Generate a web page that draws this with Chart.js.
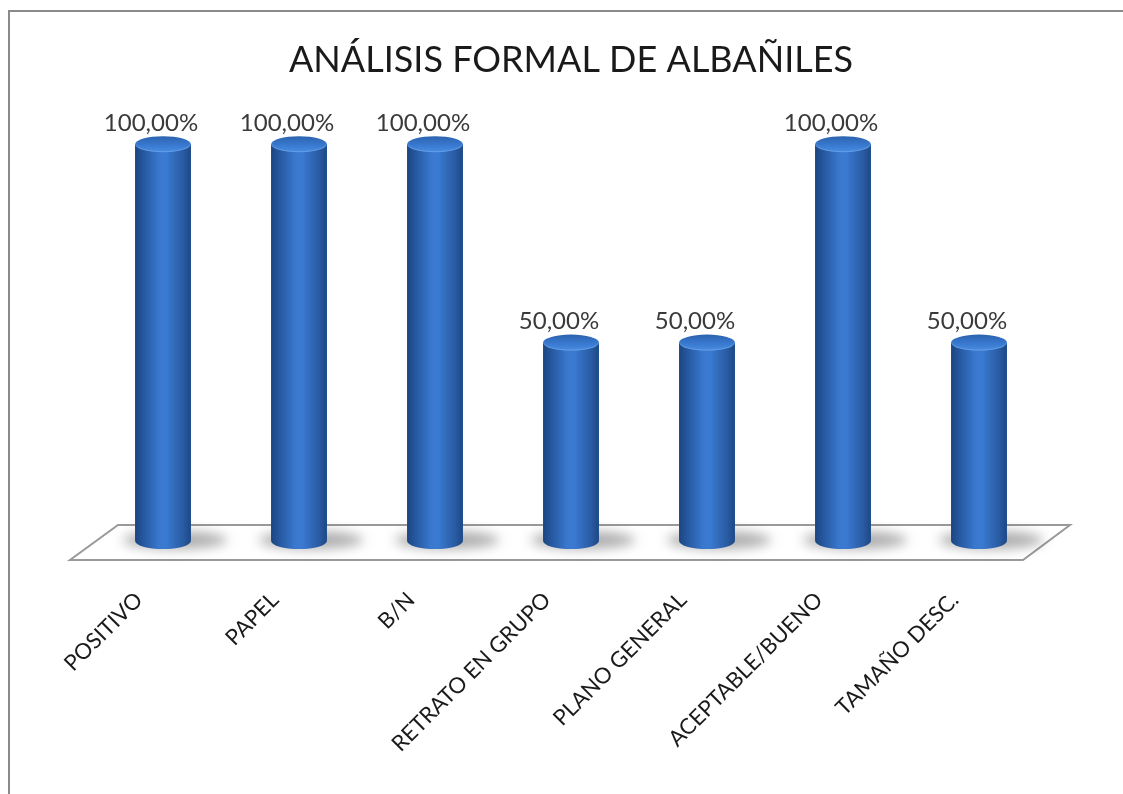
<!DOCTYPE html>
<html>
<head>
<meta charset="utf-8">
<script src="https://cdn.jsdelivr.net/npm/chart.js@4/dist/chart.umd.min.js"></script>
<style>
html,body{margin:0;padding:0;background:#fff;}
#wrap{width:1123px;height:794px;position:relative;}
</style>
</head>
<body>
<div id="wrap"><canvas id="c" width="1123" height="794"></canvas></div>
<script>
const categories = ['POSITIVO','PAPEL','B/N','RETRATO EN GRUPO','PLANO GENERAL','ACEPTABLE/BUENO','TAMAÑO DESC.'];
const percentValues = [100, 100, 100, 50, 50, 100, 50];
const chartTitle = 'ANÁLISIS FORMAL DE ALBAÑILES';

const RY = 8;

function bodyGradient(ctx, x, w) {
  const g = ctx.createLinearGradient(x - w/2, 0, x + w/2, 0);
  g.addColorStop(0, '#1b4580');
  g.addColorStop(0.12, '#24549a');
  g.addColorStop(0.42, '#3877cc');
  g.addColorStop(0.55, '#3a7bd2');
  g.addColorStop(0.85, '#2a5ca4');
  g.addColorStop(1, '#1d4884');
  return g;
}

const cylinderPlugin = {
  id: 'cylinder',
  beforeDraw(chart) {
    const ctx = chart.ctx;
    ctx.save();
    ctx.strokeStyle = '#8a8a8a';
    ctx.lineWidth = 2;
    ctx.beginPath();
    ctx.moveTo(9, 794);
    ctx.lineTo(9, 11);
    ctx.lineTo(1123, 11);
    ctx.stroke();
    ctx.restore();
  },
  beforeDatasetsDraw(chart) {
    const ctx = chart.ctx;
    const a = chart.chartArea;
    const yb = chart.scales.y.getPixelForValue(0);
    ctx.save();
    ctx.beginPath();
    ctx.moveTo(a.left + 23, yb - 16);
    ctx.lineTo(a.right + 23, yb - 16);
    ctx.lineTo(a.right - 24, yb + 19);
    ctx.lineTo(a.left - 25, yb + 19);
    ctx.closePath();
    ctx.fillStyle = '#ffffff';
    ctx.fill();
    ctx.strokeStyle = '#9a9a9a';
    ctx.lineWidth = 2;
    ctx.stroke();
    const meta = chart.getDatasetMeta(0);
    meta.data.forEach(bar => {
      const p = bar.getProps(['x','y','base','width'], true);
      ctx.save();
      ctx.filter = 'blur(6px)';
      ctx.fillStyle = 'rgba(0,0,0,0.32)';
      ctx.beginPath();
      ctx.ellipse(p.x + 12, p.base - 1, p.width/2 + 24, RY + 1, 0, 0, Math.PI*2);
      ctx.fill();
      ctx.restore();
    });
    ctx.restore();
  },
  afterDatasetsDraw(chart) {
    const ctx = chart.ctx;
    const meta = chart.getDatasetMeta(0);
    ctx.save();
    meta.data.forEach((bar, i) => {
      const p = bar.getProps(['x','y','base','width'], true);
      const rx = p.width/2;
      const bg = bodyGradient(ctx, p.x, p.width);
      ctx.fillStyle = bg;
      ctx.beginPath();
      ctx.rect(p.x - rx, p.y, p.width, p.base - p.y);
      ctx.fill();
      ctx.beginPath();
      ctx.ellipse(p.x, p.base, rx, RY, 0, 0, Math.PI);
      ctx.fill();
      const tg = ctx.createLinearGradient(0, p.y - RY, 0, p.y + RY);
      tg.addColorStop(0, '#2c62ae');
      tg.addColorStop(0.6, '#3a7bd2');
      tg.addColorStop(1, '#4a8ce0');
      ctx.fillStyle = tg;
      ctx.beginPath();
      ctx.ellipse(p.x, p.y, rx, RY, 0, 0, Math.PI*2);
      ctx.fill();
      ctx.strokeStyle = 'rgba(120,170,235,0.6)';
      ctx.lineWidth = 1;
      ctx.beginPath();
      ctx.ellipse(p.x, p.y, rx - 0.5, RY - 0.5, 0, 0, Math.PI);
      ctx.stroke();
      const v = percentValues[i];
      ctx.fillStyle = '#3a3a3a';
      ctx.font = '24px Lato';
      ctx.textAlign = 'center';
      ctx.textBaseline = 'bottom';
      ctx.fillText(v.toFixed(2).replace('.', ',') + '%', p.x - 12, p.y - RY - 1);
    });
    ctx.restore();
  }
};

new Chart(document.getElementById('c'), {
  type: 'bar',
  data: {
    labels: categories,
    datasets: [{
      data: percentValues,
      backgroundColor: '#2f6ab8',
      borderWidth: 0,
      barPercentage: 0.41,
      categoryPercentage: 1,
      clip: false
    }]
  },
  options: {
    responsive: false,
    animation: false,
    devicePixelRatio: 1,
    layout: { padding: { left: 95, right: 76, top: 0, bottom: 0 } },
    plugins: {
      legend: { display: false },
      tooltip: { enabled: false },
      title: {
        display: true,
        text: chartTitle,
        color: '#1a1a1a',
        font: { family: 'Lato', size: 36, weight: 'normal', lineHeight: 1.2 },
        padding: { top: 39, bottom: 62 }
      }
    },
    scales: {
      y: { display: false, min: 0, max: 100 },
      x: {
        grid: { display: false, drawTicks: false },
        border: { display: false },
        ticks: {
          color: '#1a1a1a',
          font: { family: 'Lato', size: 22 },
          maxRotation: 45, minRotation: 45,
          padding: 46,
          labelOffset: -24,
          autoSkip: false
        },
        afterFit(scale) { scale.height = 253; }
      }
    }
  },
  plugins: [cylinderPlugin]
});
</script>
</body>
</html>
